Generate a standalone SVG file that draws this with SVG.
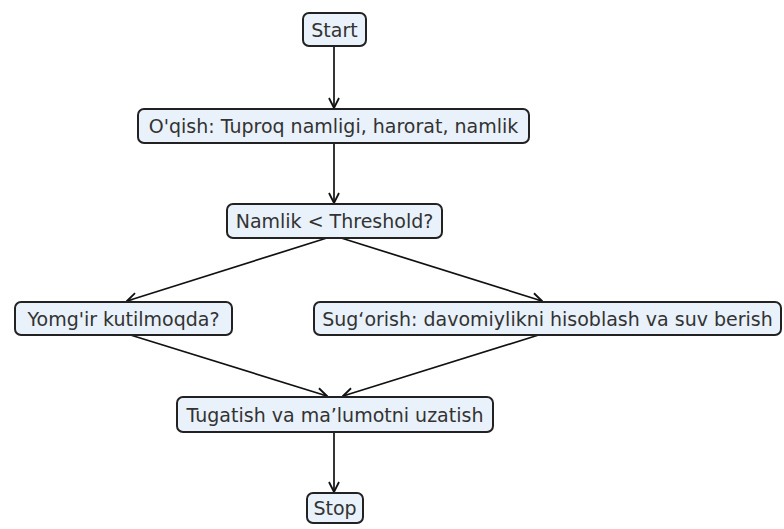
<svg xmlns="http://www.w3.org/2000/svg" width="784" height="529" viewBox="0 0 784 529">
<defs>
<style>
.box{fill:#e9f1fa;stroke:#222;stroke-width:2}
.t{font-family:"DejaVu Sans",sans-serif;font-size:19px;fill:#333;text-anchor:middle;dominant-baseline:central}
.c{stroke:#111;stroke-width:1.7;fill:none;marker-end:url(#ah)}
</style>
<marker id="ah" viewBox="0 0 12 12" refX="11" refY="6" markerWidth="12" markerHeight="12" markerUnits="userSpaceOnUse" orient="auto">
<path d="M1,1 L11,6 L1,11" fill="none" stroke="#111" stroke-width="1.8"/>
</marker>
</defs>
<rect width="784" height="529" fill="#fff"/>
<g id="connectors">
<line class="c" x1="334" y1="46" x2="334" y2="108"/>
<line class="c" x1="334" y1="143" x2="334" y2="203"/>
<line class="c" x1="330" y1="237" x2="127" y2="301"/>
<line class="c" x1="338" y1="237" x2="542" y2="301"/>
<line class="c" x1="124" y1="333" x2="327" y2="396"/>
<line class="c" x1="545" y1="333" x2="343" y2="396"/>
<line class="c" x1="334" y1="432" x2="334" y2="492"/>
</g>
<g id="start"><rect class="box" x="303" y="13" width="63" height="33" rx="6"/><text class="t" x="334.5" y="29.5">Start</text></g>
<g id="read"><rect class="box" x="138" y="109" width="391" height="34" rx="6"/><text class="t" x="333.5" y="126">O'qish: Tuproq namligi, harorat, namlik</text></g>
<g id="check"><rect class="box" x="227" y="204" width="215" height="34" rx="6"/><text class="t" x="334.5" y="221">Namlik &lt; Threshold?</text></g>
<g id="rain"><rect class="box" x="15" y="302" width="217" height="33" rx="6"/><text class="t" x="123.5" y="318.5">Yomg'ir kutilmoqda?</text></g>
<g id="water"><rect class="box" x="314" y="302" width="467" height="33" rx="6"/><text class="t" x="547.5" y="318.5">Sug‘orish: davomiylikni hisoblash va suv berish</text></g>
<g id="finish"><rect class="box" x="177" y="397" width="316" height="35" rx="6"/><text class="t" x="335" y="414.5">Tugatish va ma’lumotni uzatish</text></g>
<g id="stop"><rect class="box" x="307" y="493" width="56" height="30" rx="6"/><text class="t" x="335" y="508">Stop</text></g>
</svg>
